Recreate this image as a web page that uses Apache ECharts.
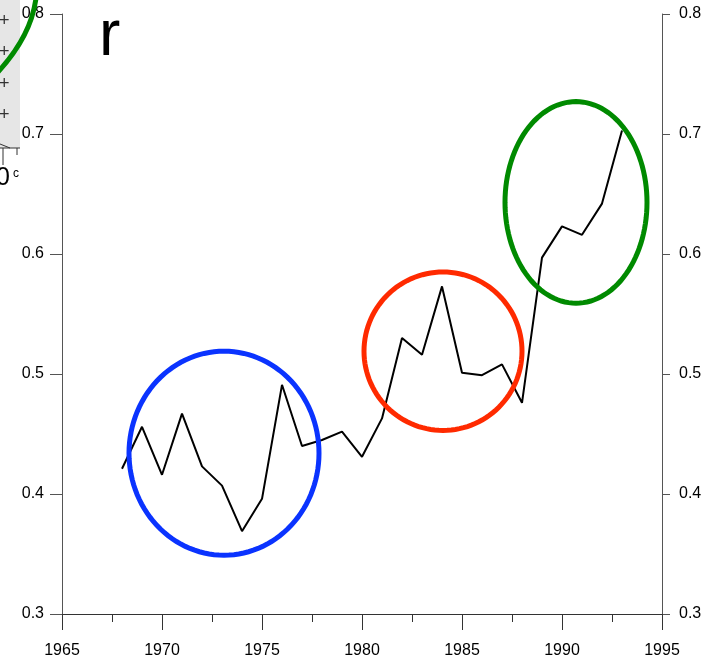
<!DOCTYPE html>
<html>
<head>
<meta charset="utf-8">
<script src="https://cdn.jsdelivr.net/npm/echarts@6/dist/echarts.min.js"></script>
<style>
  html, body { margin: 0; padding: 0; background: #fff; }
  #chart { width: 720px; height: 661px; }
</style>
</head>
<body>
<div id="chart"></div>
<script>
// yearly values
const years = [1968, 1969, 1970, 1971, 1972, 1973, 1974, 1975, 1976, 1977, 1978, 1979, 1980,
  1981, 1982, 1983, 1984, 1985, 1986, 1987, 1988, 1989, 1990, 1991, 1992, 1993]
const values = [0.421, 0.456, 0.416, 0.467, 0.423, 0.407, 0.369, 0.396, 0.491, 0.440, 0.445, 0.452, 0.431,
  0.463, 0.530, 0.516, 0.573, 0.501, 0.499, 0.508, 0.476, 0.597, 0.623, 0.616, 0.642, 0.703]

// highlight rings: [centre year, centre value, half-width in years, half-height in value]
const rings = [
  [1973.1, 0.434, 4.75, 0.085],
  [1984.05, 0.519, 3.95, 0.066],
  [1990.7, 0.643, 3.55, 0.084]
]
const ringColors = ['#0a33ff', '#ff2a00', '#008a00']

const yTicks = [0.3, 0.4, 0.5, 0.6, 0.7, 0.8]

const chart = echarts.init(document.getElementById('chart'))

const axisColor = '#555'
const font = 'Liberation Sans, Arial, sans-serif'

const yAxisBase = {
  type: 'value',
  min: 0.3,
  max: 0.8,
  interval: 0.1,
  axisLine: { show: true, lineStyle: { color: axisColor, width: 1 } },
  splitLine: { show: false },
  axisLabel: {
    color: '#000', fontSize: 16, fontFamily: font,
    formatter: v => {
      const t = yTicks.find(k => Math.abs(k - v) < 1e-6)
      return t === undefined ? '' : t.toFixed(1)
    }
  }
}

chart.setOption({
  backgroundColor: '#fff',
  animation: false,
  grid: { left: 62, right: 58, top: 14, bottom: 47 },
  xAxis: {
    type: 'value',
    min: 1965,
    max: 1995,
    interval: 5,
    axisLine: { show: true, onZero: false, lineStyle: { color: '#333', width: 1 } },
    axisTick: { show: true, length: 16, lineStyle: { color: '#333' } },
    minorTick: { show: true, splitNumber: 2, length: 8, lineStyle: { color: '#333' } },
    splitLine: { show: false },
    axisLabel: { color: '#000', fontSize: 16, fontFamily: font, margin: 29, formatter: v => String(v) }
  },
  yAxis: [
    Object.assign({}, yAxisBase, {
      position: 'left',
      axisTick: { show: true, length: 12, lineStyle: { color: axisColor } },
      axisLabel: Object.assign({}, yAxisBase.axisLabel, { margin: 18 })
    }),
    Object.assign({}, yAxisBase, {
      position: 'right',
      axisTick: { show: true, length: 8, lineStyle: { color: axisColor } },
      axisLabel: Object.assign({}, yAxisBase.axisLabel, { margin: 17 })
    })
  ],
  series: [
    {
      type: 'line',
      data: years.map((y, i) => [y, values[i]]),
      showSymbol: false,
      lineStyle: { color: '#000', width: 2 },
      z: 3
    },
    {
      type: 'custom',
      data: rings,
      z: 4,
      renderItem: (params, api) => {
        const c = api.coord([api.value(0), api.value(1)])
        const s = api.size([api.value(2), api.value(3)])
        const pts = []
        for (let k = 0; k < 120; k++) {
          const a = k / 120 * Math.PI * 2
          pts.push([c[0] + s[0] * Math.cos(a), c[1] + s[1] * Math.sin(a)])
        }
        return {
          type: 'polygon',
          shape: { points: pts },
          style: { fill: 'none', stroke: ringColors[params.dataIndex], lineWidth: 5 }
        }
      }
    }
  ],
  graphic: [
    // panel letter
    { type: 'text', left: 99, top: 5, style: { text: 'r', fontSize: 64, fontFamily: font, fill: '#000' } },
    // cropped neighbouring panel at the top-left edge
    { type: 'rect', shape: { x: 0, y: 0, width: 20, height: 148 }, style: { fill: '#e6e6e6' }, z: 0 },
    { type: 'text', left: -1, top: 12, style: { text: '+', fontSize: 18, fontFamily: font, fill: '#333' } },
    { type: 'text', left: -1, top: 43, style: { text: '+', fontSize: 18, fontFamily: font, fill: '#333' } },
    { type: 'text', left: -1, top: 75, style: { text: '+', fontSize: 18, fontFamily: font, fill: '#333' } },
    { type: 'text', left: -1, top: 106, style: { text: '+', fontSize: 18, fontFamily: font, fill: '#333' } },
    { type: 'line', shape: { x1: 0, y1: 148, x2: 20, y2: 148 }, style: { stroke: '#333', lineWidth: 1 } },
    { type: 'line', shape: { x1: 3, y1: 148, x2: 3, y2: 165 }, style: { stroke: '#333', lineWidth: 1 } },
    { type: 'line', shape: { x1: 17, y1: 148, x2: 17, y2: 155 }, style: { stroke: '#333', lineWidth: 1 } },
    { type: 'line', shape: { x1: 0, y1: 144, x2: 10, y2: 148 }, style: { stroke: '#333', lineWidth: 1 } },
    { type: 'text', left: -4, top: 166, style: { text: '0', fontSize: 25, fontFamily: font, fill: '#000' } },
    { type: 'text', left: 13, top: 168, style: { text: 'c', fontSize: 12, fontFamily: font, fill: '#000' } },
    {
      type: 'bezierCurve',
      shape: { x1: 36, y1: -2, cpx1: 33, cpy1: 22, cpx2: 20, cpy2: 48, x2: -2, y2: 72 },
      style: { stroke: '#008a00', lineWidth: 5, fill: 'none' },
      z: 10
    }
  ]
})

window.addEventListener('resize', () => chart.resize())
</script>
</body>
</html>
